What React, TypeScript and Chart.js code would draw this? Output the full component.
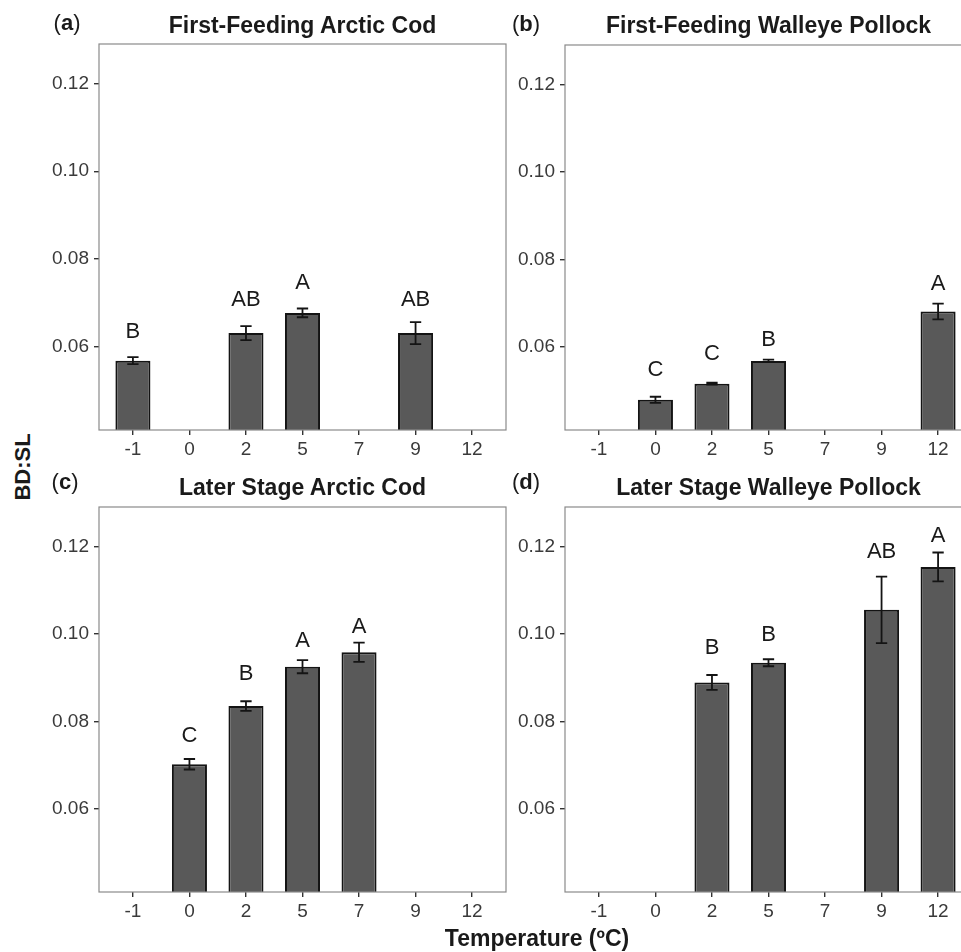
import React, { useEffect, useRef } from 'react';
import { Chart, registerables } from 'chart.js';

Chart.register(...registerables);

// ---------- data ----------
const temps = ['-1', '0', '2', '5', '7', '9', '12'];
const yTickValues = [0.06, 0.08, 0.1, 0.12];
const yMin = 0.041;
const yMax = 0.129;

// (a) First-Feeding Arctic Cod
const aMean = [0.0568, null, 0.0631, 0.0677, null, 0.0631, null];
const aSE = [0.0008, null, 0.0016, 0.001, null, 0.0025, null];
const aLetters = ['B', '', 'AB', 'A', '', 'AB', ''];
const aLetterY = [0.0634, null, 0.0706, 0.0745, null, 0.0706, null];

// (b) First-Feeding Walleye Pollock
const bMean = [null, 0.0479, 0.0516, 0.0568, null, null, 0.0681];
const bSE = [null, 0.0007, 0.0002, 0.0003, null, null, 0.0018];
const bLetters = ['', 'C', 'C', 'B', '', '', 'A'];
const bLetterY = [null, 0.0547, 0.0585, 0.0615, null, null, 0.0744];

// (c) Later Stage Arctic Cod
const cMean = [null, 0.0702, 0.0835, 0.0925, 0.0958, null, null];
const cSE = [null, 0.0012, 0.0011, 0.0015, 0.0022, null, null];
const cLetters = ['', 'C', 'B', 'A', 'A', '', ''];
const cLetterY = [null, 0.0766, 0.0908, 0.0984, 0.1017, null, null];

// (d) Later Stage Walleye Pollock
const dMean = [null, null, 0.0889, 0.0934, null, 0.1055, 0.1153];
const dSE = [null, null, 0.0017, 0.0008, null, 0.0076, 0.0033];
const dLetters = ['', '', 'B', 'B', '', 'AB', 'A'];
const dLetterY = [null, null, 0.0968, 0.0998, null, 0.1187, 0.1225];

const titles = [
  'First-Feeding Arctic Cod',
  'First-Feeding Walleye Pollock',
  'Later Stage Arctic Cod',
  'Later Stage Walleye Pollock',
];
const panelTags = ['a', 'b', 'c', 'd'];
const xTitle = 'Temperature (ºC)';
const yTitle = 'BD:SL';

// ---------- layout ----------
const FONT = "'Liberation Sans', Arial, Helvetica, sans-serif";
const YW = 60;
const XH = 40;
const PT = 25;
const PR = 20;
const PB = 5;

type Box = { L: number; R: number; T: number; B: number };
const boxes: Box[] = [
  { L: 99, R: 506, T: 44, B: 430 },
  { L: 565, R: 972, T: 45, B: 430 },
  { L: 99, R: 506, T: 507, B: 892 },
  { L: 565, R: 972, T: 507, B: 892 },
];

type PanelProps = {
  mean: (number | null)[];
  se: (number | null)[];
  letters: string[];
  letterY: (number | null)[];
  box: Box;
};

function Panel({ mean, se, letters, letterY, box }: PanelProps) {
  const ref = useRef<HTMLCanvasElement | null>(null);
  const width = box.R - box.L + YW + PR;
  const height = box.B - box.T + PT + XH + PB;

  useEffect(() => {
    if (!ref.current) return;
    const points: { x: number; y: number }[] = [];
    mean.forEach((v, i) => {
      if (v !== null) points.push({ x: i, y: v });
    });

    const decor = {
      id: 'decor',
      afterDatasetsDraw(chart: any) {
        const ctx = chart.ctx;
        const xs = chart.scales.x;
        const ys = chart.scales.y;
        ctx.save();
        // error bars
        ctx.strokeStyle = '#141414';
        ctx.lineWidth = 1.8;
        mean.forEach((v, i) => {
          const e = se[i];
          if (v === null || e === null) return;
          const cx = xs.getPixelForValue(i);
          const half = xs.getPixelForValue(i + 0.1) - cx;
          const yt = ys.getPixelForValue(v + e);
          const yb = ys.getPixelForValue(v - e);
          ctx.beginPath();
          ctx.moveTo(cx, yt);
          ctx.lineTo(cx, yb);
          ctx.moveTo(cx - half, yt);
          ctx.lineTo(cx + half, yt);
          ctx.moveTo(cx - half, yb);
          ctx.lineTo(cx + half, yb);
          ctx.stroke();
        });
        // letters
        ctx.fillStyle = '#1a1a1a';
        ctx.font = `22px ${FONT}`;
        ctx.textAlign = 'center';
        ctx.textBaseline = 'middle';
        letters.forEach((t, i) => {
          const ly = letterY[i];
          if (!t || ly === null) return;
          ctx.fillText(t, xs.getPixelForValue(i), ys.getPixelForValue(ly));
        });
        ctx.restore();
      },
      afterDraw(chart: any) {
        const { left, right, top, bottom } = chart.chartArea;
        const ctx = chart.ctx;
        ctx.save();
        ctx.strokeStyle = '#8a8a8a';
        ctx.lineWidth = 1.2;
        ctx.strokeRect(left, top, right - left, bottom - top);
        ctx.restore();
      },
    };

    const chart = new Chart(ref.current, {
      type: 'bar',
      data: {
        datasets: [
          {
            data: points,
            backgroundColor: '#595959',
            borderColor: '#141414',
            borderWidth: 2,
            borderSkipped: 'start',
            base: yMin,
            barPercentage: 0.62,
            categoryPercentage: 1,
          } as any,
        ],
      },
      options: {
        animation: false,
        responsive: false,
        devicePixelRatio: 1,
        layout: { padding: { left: 0, top: PT, right: PR, bottom: PB } },
        plugins: {
          legend: { display: false },
          tooltip: { enabled: false },
          title: { display: false },
        },
        scales: {
          x: {
            type: 'linear',
            min: -0.6,
            max: 6.6,
            offset: false,
            afterBuildTicks: (s: any) => {
              s.ticks = temps.map((_, i) => ({ value: i }));
            },
            afterFit: (s: any) => {
              s.height = XH;
            },
            ticks: {
              callback: (v: any) => temps[v as number],
              font: { size: 19, family: FONT },
              color: '#3a3a3a',
              padding: 3,
              maxRotation: 0,
              autoSkip: false,
            },
            grid: {
              offset: false,
              drawOnChartArea: false,
              drawTicks: true,
              tickLength: 5,
              color: '#333333',
              lineWidth: 1.4,
            },
            border: { display: false },
          },
          y: {
            type: 'linear',
            min: yMin,
            max: yMax,
            afterBuildTicks: (s: any) => {
              s.ticks = yTickValues.map((v) => ({ value: v }));
            },
            afterFit: (s: any) => {
              s.width = YW;
            },
            ticks: {
              callback: (v: any) => Number(v).toFixed(2),
              font: { size: 19, family: FONT },
              color: '#3a3a3a',
              padding: 5,
            },
            grid: {
              drawOnChartArea: false,
              drawTicks: true,
              tickLength: 5,
              color: '#333333',
              lineWidth: 1.4,
            },
            border: { display: false },
          },
        },
      } as any,
      plugins: [decor],
    });
    return () => chart.destroy();
  }, []);

  return (
    <canvas
      ref={ref}
      width={width}
      height={height}
      style={{
        position: 'absolute',
        left: box.L - YW,
        top: box.T - PT,
        width,
        height,
      }}
    />
  );
}

function Text({
  x,
  y,
  size,
  bold,
  rotate,
  children,
}: {
  x: number;
  y: number;
  size: number;
  bold?: boolean;
  rotate?: boolean;
  children: React.ReactNode;
}) {
  return (
    <div
      style={{
        position: 'absolute',
        left: x,
        top: y,
        transform: `translate(-50%, -50%)${rotate ? ' rotate(-90deg)' : ''}`,
        fontFamily: FONT,
        fontSize: size,
        fontWeight: bold ? 700 : 400,
        lineHeight: 1,
        whiteSpace: 'nowrap',
        color: '#1a1a1a',
      }}
    >
      {children}
    </div>
  );
}

export default function App() {
  const panels = [
    { mean: aMean, se: aSE, letters: aLetters, letterY: aLetterY },
    { mean: bMean, se: bSE, letters: bLetters, letterY: bLetterY },
    { mean: cMean, se: cSE, letters: cLetters, letterY: cLetterY },
    { mean: dMean, se: dSE, letters: dLetters, letterY: dLetterY },
  ];
  const tagPos = [
    { x: 67, y: 23 },
    { x: 526, y: 24 },
    { x: 65, y: 482 },
    { x: 526, y: 482 },
  ];
  const titleY = [25, 25, 487, 487];
  return (
    <div
      style={{
        position: 'absolute',
        left: 0,
        top: 0,
        width: 961,
        height: 952,
        overflow: 'hidden',
        background: '#ffffff',
      }}
    >
      {panels.map((p, i) => (
        <Panel key={i} {...p} box={boxes[i]} />
      ))}
      {titles.map((t, i) => (
        <Text key={'t' + i} x={(boxes[i].L + boxes[i].R) / 2} y={titleY[i]} size={23} bold>
          {t}
        </Text>
      ))}
      {panelTags.map((t, i) => (
        <Text key={'g' + i} x={tagPos[i].x} y={tagPos[i].y} size={22}>
          (<b>{t}</b>)
        </Text>
      ))}
      <Text x={23} y={467} size={22} bold rotate>
        {yTitle}
      </Text>
      <Text x={537} y={938} size={23} bold>
        {xTitle}
      </Text>
    </div>
  );
}
